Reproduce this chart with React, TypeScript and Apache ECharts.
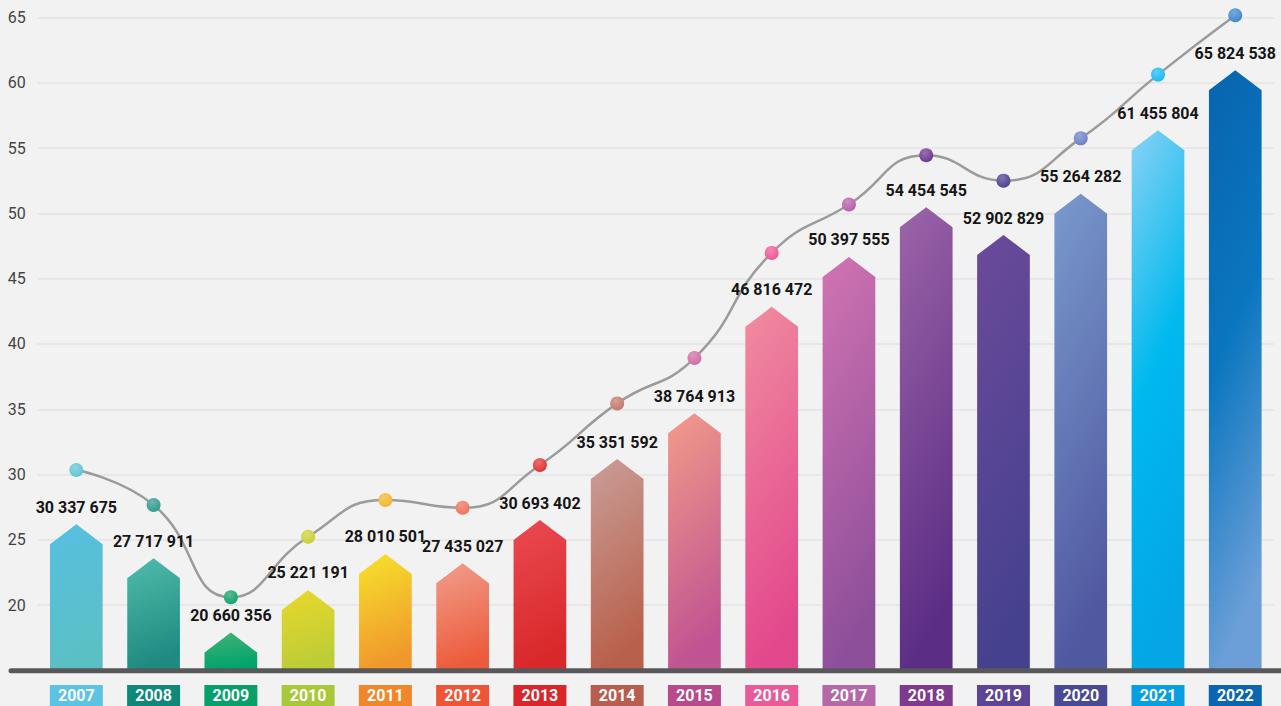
import React, { useEffect, useRef } from "react";
import * as echarts from "echarts";

// ---- data ----
const years = ["2007", "2008", "2009", "2010", "2011", "2012", "2013", "2014", "2015", "2016", "2017", "2018", "2019", "2020", "2021", "2022"];
const visitors = [30337675, 27717911, 20660356, 25221191, 28010501, 27435027, 30693402, 35351592, 38764913, 46816472, 50397555, 54454545, 52902829, 55264282, 61455804, 65824538];
// line points (millions) as drawn
const lineValues = [30.35, 27.67, 20.61, 25.24, 28.05, 27.46, 30.73, 35.45, 38.92, 46.97, 50.68, 54.45, 52.5, 55.74, 60.62, 65.16];
// arrow bar tips (millions) as drawn
const barValues = [26.19, 23.59, 17.9, 21.17, 23.92, 23.21, 26.52, 31.19, 34.69, 42.84, 46.66, 50.46, 48.34, 51.5, 56.36, 60.95];
const yMin = 15;
const yMax = 65;
const yStep = 5;

// ---- styles ----
const labelColors = ["#5bc3e3", "#0e8878", "#07a06a", "#a8c838", "#f0872a", "#ee5536", "#d8262a", "#b85e4e", "#b8498a", "#ea5a98", "#b468a8", "#7e3a8e", "#5c4596", "#484a96", "#06a0e2", "#0a66b0"];
const barGradients = [
  ["#57bfe2", "#5bc0c4"],
  ["#4fbcac", "#1f8a80"],
  ["#43b376", "#00a36b"],
  ["#ead82c", "#bccd36"],
  ["#f6e32c", "#f0982c"],
  ["#f19e8c", "#ec5c3c"],
  ["#ea4a52", "#d8282a"],
  ["#c99e98", "#b9604c"],
  ["#f39c8a", "#c05391"],
  ["#f08ca0", "#e3488c"],
  ["#d274b2", "#8e4f9a"],
  ["#9d64a8", "#5b2d85"],
  ["#6c4a9a", "#45418f"],
  ["#7a9acd", "#5058a0"],
  ["#8ad2f4", "#00b9ee", "#04a6e4"],
  ["#0864ae", "#0a76bf", "#6c9fd8"],
];
const pointColors = ["#5bc5d6", "#2a9a8c", "#10a068", "#c8d02e", "#f4b428", "#ee7058", "#e0302e", "#c07868", "#d06aa2", "#ee5494", "#b45ca8", "#6e3290", "#4a3d92", "#6a7ec4", "#18b8f0", "#3a86cc"];

function lighten(hex: string, t: number): string {
  const n = parseInt(hex.slice(1), 16);
  const r = (n >> 16) & 255, g = (n >> 8) & 255, b = n & 255;
  const m = (c: number) => Math.round(c + (255 - c) * t);
  return "rgb(" + m(r) + "," + m(g) + "," + m(b) + ")";
}

function fmt(v: number): string {
  return String(v).replace(/\B(?=(\d{3})+(?!\d))/g, " ");
}

const FONT = "Roboto, 'Noto Sans', sans-serif";

export default function App() {
  const ref = useRef<HTMLDivElement>(null);
  useEffect(() => {
    if (!ref.current) return;
    const chart = echarts.init(ref.current, null, { renderer: "svg" });
    const rich: any = {};
    labelColors.forEach((c, i) => {
      rich["y" + i] = {
        backgroundColor: c,
        color: "#ffffff",
        fontWeight: "bold",
        fontSize: 16,
        fontFamily: FONT,
        width: 53,
        height: 21,
        lineHeight: 22,
        align: "center",
      };
    });

    const option: any = {
      animation: false,
      backgroundColor: "#f2f2f2",
      grid: { left: 37.7, right: 7.1, top: 17.4, bottom: 35.4, containLabel: false },
      xAxis: {
        type: "category",
        data: years,
        boundaryGap: true,
        axisLine: { show: false },
        axisTick: { show: false },
        splitLine: { show: false },
        axisLabel: {
          interval: 0,
          margin: 14,
          formatter: (v: string, idx: number) => "{y" + idx + "|" + v + "}",
          rich,
        },
      },
      yAxis: {
        type: "value",
        min: yMin,
        max: yMax,
        interval: yStep,
        axisLine: { show: false },
        axisTick: { show: false },
        axisLabel: {
          showMinLabel: false,
          color: "#444444",
          fontSize: 16,
          fontFamily: FONT,
          margin: 12,
        },
        splitLine: { lineStyle: { color: "#e3e3e3", width: 1.5 } },
      },
      series: [
        {
          type: "custom",
          z: 6,
          clip: false,
          encode: { x: 0, y: 1 },
          data: barValues.map((v, i) => [i, v]),
          renderItem: (params: any, api: any) => {
            const i = api.value(0);
            const v = api.value(1);
            const top = api.coord([i, v]);
            const base = api.coord([i, yMin]);
            const w = api.size([1, 0])[0] * 0.682;
            const x0 = top[0] - w / 2;
            const x1 = top[0] + w / 2;
            const tipH = 20;
            const cols = barGradients[i];
            const stops = cols.map((c, k) => ({ offset: k / (cols.length - 1), color: c }));
            return {
              type: "group",
              children: [
                {
                  type: "polygon",
                  shape: {
                    points: [
                      [x0, base[1]],
                      [x0, top[1] + tipH],
                      [top[0], top[1]],
                      [x1, top[1] + tipH],
                      [x1, base[1]],
                    ],
                  },
                  style: { fill: new echarts.graphic.LinearGradient(0, 0, 0.2, 1, stops) },
                },
                {
                  type: "text",
                  x: top[0],
                  y: top[1] - 17,
                  style: {
                    text: fmt(visitors[i]),
                    fill: "#151515",
                    fontSize: 16,
                    fontWeight: "bold",
                    fontFamily: FONT,
                    align: "center",
                    verticalAlign: "middle",
                  },
                },
              ],
            };
          },
        },
        {
          type: "line",
          z: 5,
          clip: false,
          smooth: 0.5,
          symbol: "circle",
          symbolSize: 14,
          lineStyle: { color: "#9b9b9b", width: 2.5 },
          data: lineValues.map((v, i) => ({
            value: v,
            itemStyle: {
              color: new echarts.graphic.RadialGradient(0.4, 0.3, 0.75, [
                { offset: 0, color: lighten(pointColors[i], 0.3) },
                { offset: 1, color: pointColors[i] },
              ]),
            },
          })),
        },
      ],
      graphic: [
        {
          type: "line",
          z: 100,
          shape: { x1: 11, y1: 670.8, x2: 1290, y2: 670.8 },
          style: { stroke: "#58585a", lineWidth: 5, lineCap: "round" },
        },
      ],
    };
    chart.setOption(option);
    return () => chart.dispose();
  }, []);
  return (
    <div
      ref={ref}
      style={{ position: "fixed", left: 0, top: 0, width: 1281, height: 706 }}
    />
  );
}
